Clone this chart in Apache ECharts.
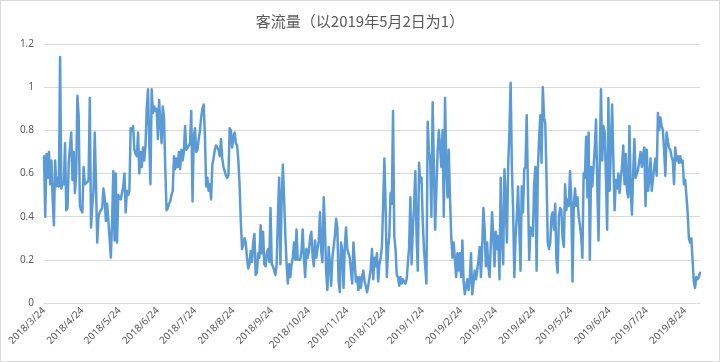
<!DOCTYPE html>
<html>
<head>
<meta charset="utf-8">
<script src="https://cdn.jsdelivr.net/npm/echarts@6/dist/echarts.min.js"></script>
<style>
html,body{margin:0;padding:0;background:#fff;}
#wrap{width:720px;height:362px;box-sizing:border-box;border:1px solid #D9D9D9;position:relative;}
#chart{position:absolute;left:-1px;top:-1px;width:720px;height:362px;}
</style>
</head>
<body>
<div id="wrap"><div id="chart"></div></div>
<script>
const titleText = '客流量（以2019年5月2日为1）';
const startDate = [2018, 3, 24];
const yTicks = [0, 0.2, 0.4, 0.6, 0.8, 1, 1.2];

// one array per month span (24th to 23rd of next month)
const p2018_03 = [0.68,0.40,0.69,0.58,0.70,0.55,0.66,0.48,0.36,0.66,0.54,0.58,0.54,1.14,0.53,0.56,0.55,0.74,0.43,0.44,0.65,0.72,0.79,0.57,0.70,0.51,0.60,0.96,0.87,0.45,0.43];
const p2018_04 = [0.42,0.63,0.55,0.55,0.56,0.57,0.95,0.35,0.45,0.52,0.79,0.55,0.28,0.40,0.42,0.42,0.44,0.53,0.49,0.38,0.46,0.38,0.30,0.21,0.38,0.61,0.29,0.60,0.28,0.50];
const p2018_05 = [0.50,0.48,0.48,0.54,0.60,0.42,0.52,0.50,0.52,0.81,0.80,0.82,0.71,0.69,0.68,0.79,0.60,0.70,0.63,0.72,0.66,0.73,0.90,0.99,0.75,0.55,0.99,0.88,0.91,0.89,0.90];
const p2018_06 = [0.76,0.94,0.94,0.74,0.91,0.85,0.62,0.43,0.44,0.46,0.47,0.50,0.52,0.68,0.62,0.67,0.63,0.70,0.62,0.71,0.66,0.70,0.82,0.71,0.72,0.72,0.74,0.89,0.47,0.77];
const p2018_07 = [0.81,0.70,0.71,0.76,0.80,0.86,0.90,0.92,0.78,0.54,0.58,0.52,0.55,0.48,0.64,0.67,0.71,0.73,0.72,0.71,0.68,0.76,0.67,0.63,0.61,0.59,0.58,0.59,0.81,0.80,0.72];
const p2018_08 = [0.77,0.79,0.74,0.73,0.66,0.55,0.38,0.25,0.27,0.30,0.28,0.21,0.16,0.18,0.24,0.19,0.28,0.32,0.13,0.14,0.23,0.21,0.36,0.23,0.33,0.18,0.17,0.23,0.25,0.19,0.44];
const p2018_09 = [0.18,0.17,0.17,0.13,0.18,0.40,0.58,0.18,0.48,0.64,0.48,0.31,0.18,0.09,0.18,0.12,0.18,0.21,0.28,0.20,0.34,0.20,0.20,0.20,0.24,0.34,0.21,0.12,0.25,0.21];
const p2018_10 = [0.24,0.30,0.33,0.22,0.17,0.29,0.21,0.21,0.29,0.42,0.24,0.19,0.49,0.34,0.14,0.06,0.26,0.18,0.08,0.21,0.21,0.31,0.39,0.35,0.10,0.05,0.28,0.24,0.07,0.26,0.35];
const p2018_11 = [0.25,0.23,0.21,0.15,0.09,0.28,0.28,0.10,0.12,0.06,0.12,0.07,0.12,0.15,0.10,0.08,0.05,0.08,0.12,0.16,0.25,0.11,0.21,0.17,0.23,0.10,0.18,0.21,0.26,0.45];
const p2018_12 = [0.67,0.45,0.12,0.25,0.31,0.51,0.46,0.89,0.31,0.25,0.13,0.12,0.08,0.12,0.09,0.11,0.10,0.09,0.11,0.11,0.26,0.49,0.18,0.34,0.45,0.61,0.31,0.15,0.65,0.56,0.58];
const p2019_01 = [0.38,0.25,0.17,0.09,0.84,0.70,0.66,0.40,0.93,0.63,0.34,0.52,0.70,0.80,0.72,0.63,0.80,0.40,0.95,0.65,0.49,0.71,0.49,0.31,0.21,0.28,0.20,0.12,0.23,0.15,0.23];
const p2019_02 = [0.12,0.29,0.10,0.04,0.08,0.11,0.06,0.11,0.23,0.04,0.09,0.15,0.11,0.15,0.20,0.26,0.12,0.25,0.44,0.34,0.17,0.28,0.17,0.12,0.12,0.42,0.31,0.17];
const p2019_03 = [0.33,0.25,0.31,0.11,0.58,0.29,0.18,0.62,0.48,0.28,0.63,0.79,1.02,0.63,0.43,0.12,0.31,0.40,0.54,0.35,0.15,0.54,0.42,0.62,0.63,0.87,0.52,0.20,0.35,0.34,0.31];
const p2019_04 = [0.55,0.63,0.15,0.62,0.76,0.87,0.65,1.00,0.86,0.83,0.58,0.28,0.25,0.28,0.40,0.42,0.34,0.46,0.20,0.14,0.40,0.44,0.43,0.30,0.26,0.55,0.43,0.48,0.45,0.61];
const p2019_05 = [0.48,0.10,0.45,0.53,0.45,0.49,0.40,0.36,0.31,0.21,0.60,0.58,0.77,0.49,0.79,0.20,0.63,0.54,0.63,0.72,0.85,0.55,0.29,0.66,0.99,0.66,0.82,0.79,0.58,0.34,0.95];
const p2019_06 = [0.52,0.72,0.92,0.66,0.43,0.57,0.53,0.60,0.51,0.58,0.63,0.73,0.55,0.69,0.52,0.49,0.82,0.52,0.41,0.60,0.76,0.58,0.58,0.62,0.66,0.70,0.63,0.69,0.72,0.45];
const p2019_07 = [0.71,0.52,0.57,0.67,0.52,0.52,0.63,0.67,0.59,0.88,0.80,0.86,0.82,0.80,0.71,0.59,0.79,0.75,0.72,0.71,0.68,0.66,0.55,0.72,0.66,0.68,0.65,0.68,0.65,0.66,0.55];
const p2019_08 = [0.57,0.50,0.42,0.30,0.28,0.30,0.20,0.10,0.07,0.12,0.11,0.12,0.14];

const values = [].concat(p2018_03,p2018_04,p2018_05,p2018_06,p2018_07,p2018_08,p2018_09,p2018_10,p2018_11,p2018_12,p2019_01,p2019_02,p2019_03,p2019_04,p2019_05,p2019_06,p2019_07,p2019_08);

const categories = values.map((v, i) => {
  const d = new Date(startDate[0], startDate[1]-1, startDate[2] + i);
  return d.getFullYear() + '/' + (d.getMonth()+1) + '/' + d.getDate();
});

const chart = echarts.init(document.getElementById('chart'), null, {renderer:'canvas'});
chart.setOption({
  animation:false,
  backgroundColor:'transparent',
  title:{
    text:titleText, left:'center', top:9,
    textStyle:{fontFamily:'"Noto Sans CJK SC", sans-serif', fontSize:15, fontWeight:'normal', color:'#595959'}
  },
  grid:{left:44, right:20, top:44, bottom:59, containLabel:false},
  xAxis:{
    type:'category', data:categories, boundaryGap:false,
    axisLine:{show:true, lineStyle:{color:'#D9D9D9', width:1}},
    axisTick:{show:false},
    splitLine:{show:false},
    axisLabel:{
      interval:(idx, val) => /\/24$/.test(val),
      rotate:45, margin:6, fontSize:10, color:'#595959',
      fontFamily:'"Noto Sans", sans-serif'
    }
  },
  yAxis:{
    type:'value', min:yTicks[0], max:yTicks[yTicks.length-1], interval:0.2,
    axisLine:{show:false}, axisTick:{show:false},
    splitLine:{lineStyle:{color:'#D9D9D9', width:1}},
    axisLabel:{fontSize:10, color:'#595959', margin:10, fontFamily:'"Noto Sans", sans-serif'}
  },
  series:[{
    type:'line', data:values, showSymbol:false, symbol:'none',
    lineStyle:{color:'#5B9BD5', width:2.5, join:'round', cap:'round'},
    itemStyle:{color:'#5B9BD5'}
  }]
});
</script>
</body>
</html>
